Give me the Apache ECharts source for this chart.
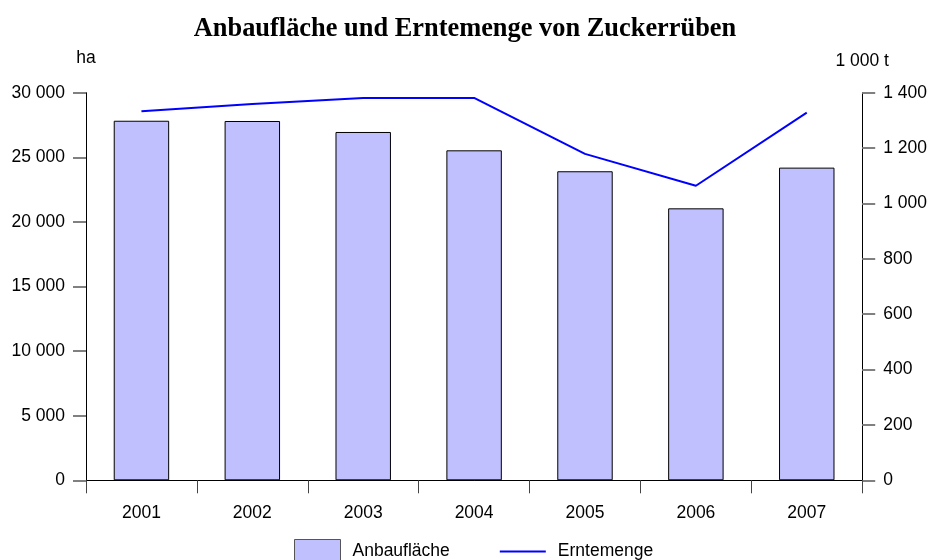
<!DOCTYPE html>
<html>
<head>
<meta charset="utf-8">
<script src="https://cdn.jsdelivr.net/npm/echarts@6/dist/echarts.min.js"></script>
<style>html,body{margin:0;padding:0;background:#fff}#c{width:930px;height:560px}</style>
</head>
<body>
<div id="c"></div>
<script>
var years = ['2001','2002','2003','2004','2005','2006','2007'];
var anbauflaeche = [27830, 27810, 26960, 25540, 23920, 21050, 24200];
var erntemenge = [1333, 1359, 1381, 1381, 1179, 1064, 1328];
var leftTicks = [0, 5000, 10000, 15000, 20000, 25000, 30000];
var rightTicks = [0, 200, 400, 600, 800, 1000, 1200, 1400];

function fmt(v){ return String(v).replace(/\B(?=(\d{3})+(?!\d))/g, ' '); }

var chart = echarts.init(document.getElementById('c'), null, {renderer:'canvas'});
var sans = 'Liberation Sans, Arial, sans-serif';
var fs = 17.5;
chart.setOption({
  animation: false,
  title: {
    text: 'Anbaufläche und Erntemenge von Zuckerrüben',
    left: 'center', top: 11,
    textStyle: {fontFamily: 'Liberation Serif, Times New Roman, serif', fontWeight: 'bold', fontSize: 26.4, color: '#000'}
  },
  legend: {
    top: 539, left: 294, padding: 0, itemGap: 50, itemWidth: 46, itemHeight: 24,
    textStyle: {fontFamily: sans, fontSize: fs, color: '#000', padding: [0, 0, 0, 7]},
    data: [
      {name: 'Anbaufläche', icon: 'rect', itemStyle: {borderColor: '#555', borderWidth: 1}},
      {name: 'Erntemenge', icon: 'path://M0 0H47V2H0Z'}
    ]
  },
  grid: {left: 86, right: 66, top: 92.7, bottom: 79.7},
  xAxis: {
    type: 'category', data: years, boundaryGap: true,
    axisLine: {lineStyle: {color: '#000', width: 1}},
    axisTick: {show: true, length: 13, alignWithLabel: false, lineStyle: {color: '#444'}},
    axisLabel: {fontFamily: sans, fontSize: fs, color: '#000', margin: 24}
  },
  yAxis: [
    {
      type: 'value', min: 0, max: 30000, interval: 5000, name: 'ha', nameLocation: 'end', nameGap: 26,
      nameTextStyle: {fontFamily: sans, fontSize: fs, color: '#000'},
      axisLine: {show: true, lineStyle: {color: '#000'}},
      axisTick: {show: true, length: 13, lineStyle: {color: '#808080', width: 2}},
      splitLine: {show: false},
      axisLabel: {fontFamily: sans, fontSize: fs, color: '#000', margin: 21, formatter: fmt}
    },
    {
      type: 'value', min: 0, max: 1400, interval: 200, name: '1 000 t', nameLocation: 'end', nameGap: 23,
      position: 'right',
      nameTextStyle: {fontFamily: sans, fontSize: fs, color: '#000'},
      axisLine: {show: true, lineStyle: {color: '#000'}},
      axisTick: {show: true, length: 13, lineStyle: {color: '#808080', width: 2}},
      splitLine: {show: false},
      axisLabel: {fontFamily: sans, fontSize: fs, color: '#000', margin: 21, formatter: fmt}
    }
  ],
  series: [
    {
      name: 'Anbaufläche', type: 'bar', data: anbauflaeche, yAxisIndex: 0, barWidth: '50%',
      itemStyle: {color: '#c0c0ff', borderColor: '#000', borderWidth: 1}
    },
    {
      name: 'Erntemenge', type: 'line', data: erntemenge, yAxisIndex: 1, symbol: 'none',
      lineStyle: {color: '#0000ff', width: 2}, itemStyle: {color: '#0000ff'}
    }
  ]
});
</script>
</body>
</html>
